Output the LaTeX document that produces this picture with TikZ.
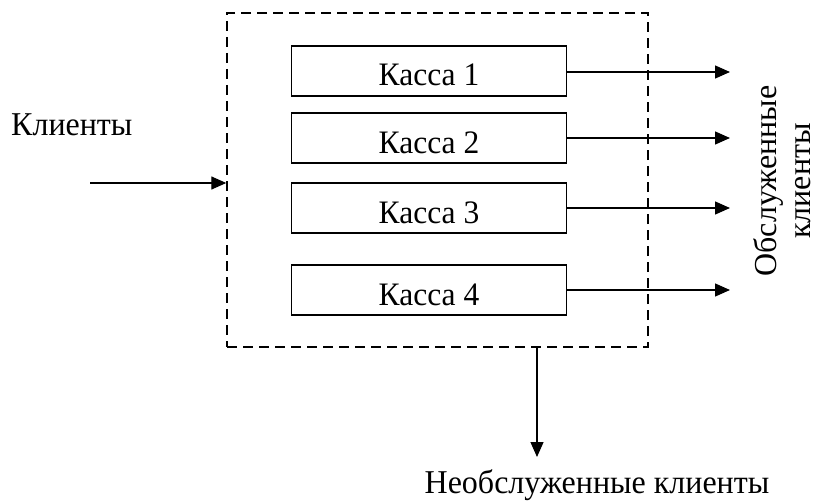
\documentclass[tikz,border=0pt]{standalone}
\usepackage{graphicx}
\usepackage{fontspec}
\setmainfont{Liberation Serif}
\usetikzlibrary{arrows.meta}
\newcommand\tallt[1]{\scalebox{1}[1.04]{#1}}
\begin{document}
\begin{tikzpicture}[x=1pt,y=-1pt,
  txt/.style={font=\fontsize{32}{34}\selectfont, inner sep=0pt},
  kassa/.style={draw, line width=1.7pt, minimum width=275pt, minimum height=50pt, inner sep=0pt,
    text height=30pt, text depth=0pt, font=\fontsize{31.5}{36}\selectfont},
  sysbox/.style={draw, line width=1.4pt, dash pattern=on 10pt off 6pt, minimum width=421pt, minimum height=334pt, inner sep=0pt},
  arr/.style={line width=1.3pt, -{Triangle[length=15pt,width=13pt]}}]
\useasboundingbox (0,0) rectangle (818,500);
\node[sysbox] (sys) at (437.5,180) {};
\node[kassa] (k1) at (429,71) {\tallt{Касса 1}};
\node[kassa] (k2) at (429,138) {\tallt{Касса 2}};
\node[kassa] (k3) at (429,208) {\tallt{Касса 3}};
\node[kassa] (k4) at (429,290) {\tallt{Касса 4}};
\coordinate (o1) at (730,72);
\coordinate (o2) at (730,138);
\coordinate (o3) at (730,208);
\coordinate (o4) at (730,290);
\draw[arr] (k1.east |- o1) -- (o1);
\draw[arr] (k2.east |- o2) -- (o2);
\draw[arr] (k3.east |- o3) -- (o3);
\draw[arr] (k4.east |- o4) -- (o4);
\coordinate (in) at (90,183);
\draw[arr] (in) -- (sys.west |- in);
\coordinate (b) at (537,457);
\draw[arr] (sys.south -| b) -- (b);
\node[txt, anchor=base west] (cl) at (11,135) {\tallt{Клиенты}};
\node[txt, anchor=base] (ncl) at (597,493) {\tallt{Необслуженные клиенты}};
\node[txt, rotate=90, anchor=base] (ocl) at (776,181) {\begin{tabular}[t]{@{}c@{}}Обслуженные\\клиенты\end{tabular}};
\end{tikzpicture}
\end{document}
